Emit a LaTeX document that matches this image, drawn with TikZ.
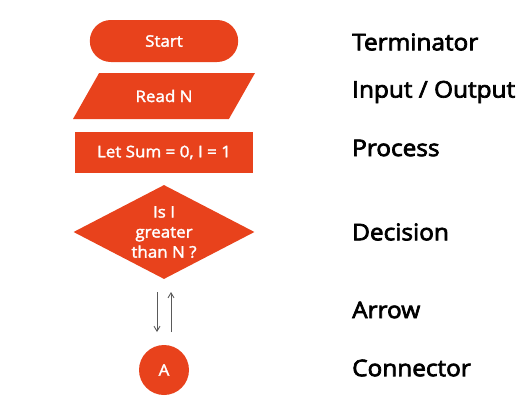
\documentclass[tikz,border=0pt]{standalone}
\usepackage{fontspec}
\setmainfont{Open Sans}
\newfontfamily\widefont{Open Sans}[FakeStretch=1.06]
\newcommand\emboldtext[1]{\special{pdf:code q 2 Tr 0.7 w}#1\special{pdf:code Q}}
\newcommand\semitext[1]{\special{pdf:code q 2 Tr 0.3 w}#1\special{pdf:code Q}}
\usetikzlibrary{shapes.geometric,shapes.misc,arrows.meta}
\definecolor{fl}{RGB}{232,66,28}
\definecolor{arr}{RGB}{90,90,90}
\tikzset{
  shp/.style={fill=fl,draw=none,text=white,font=\widefont\fontsize{16}{19}\selectfont},
  lbl/.style={anchor=west,font=\widefont\fontsize{23}{27}\selectfont,text=black,inner sep=0pt},
  flarrow/.style={draw=arr,line width=0.9pt,-{Straight Barb[length=5pt,width=6pt]}}
}
\begin{document}
\begin{tikzpicture}[x=1pt,y=-1pt]
\useasboundingbox (0,0) rectangle (531,415);
\node[shp,rounded rectangle,minimum width=155pt,minimum height=42pt] (start) at (164,41) {\semitext{Start}};
\node[shp,trapezium,trapezium stretches=true,trapezium left angle=56,trapezium right angle=124,minimum width=182pt,minimum height=46pt] (read) at (164,96) {\semitext{Read N}};
\node[shp,rectangle,minimum width=178pt,minimum height=41pt] (proc) at (164,152.5) {\semitext{Let Sum = 0, I = 1}};
\node[shp,diamond,aspect=1.93,minimum width=181pt,minimum height=94pt,inner sep=0pt,align=center,font=\widefont\fontsize{16}{20}\selectfont] (dec) at (164,232) {\semitext{Is I}\\\semitext{greater}\\\semitext{than N ?}};
\node[shp,circle,minimum size=50pt] (con) at (164,370) {\semitext{A}};
\coordinate (a1s) at (157,292);
\coordinate (a1e) at (157,332);
\coordinate (a2s) at (171,332);
\coordinate (a2e) at (171,292);
\draw[flarrow] (a1s) -- (a1e);
\draw[flarrow] (a2s) -- (a2e);
\node[lbl] (l1) at (352,42) {\emboldtext{Terminator}};
\node[lbl] (l2) at (352,92) {\emboldtext{Input / Output}};
\node[lbl] (l3) at (352,148) {\emboldtext{Process}};
\node[lbl] (l4) at (352,232) {\emboldtext{Decision}};
\node[lbl] (l5) at (352,310) {\emboldtext{Arrow}};
\node[lbl] (l6) at (352,368) {\emboldtext{Connector}};
\end{tikzpicture}
\end{document}
